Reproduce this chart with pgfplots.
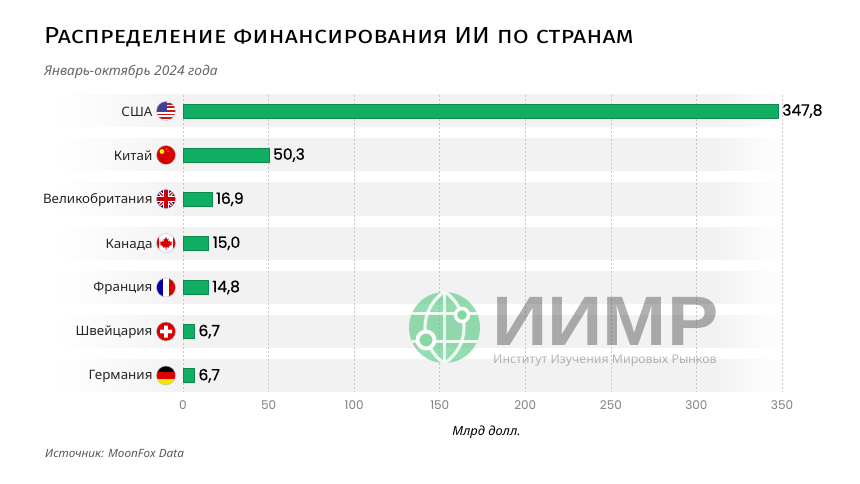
\documentclass[border=0pt]{standalone}
\usepackage{fontspec}
\usepackage{pgfplots}
\usepackage{pgfplotstable}
\pgfplotsset{compat=1.18}
\setmainfont{Noto Sans}[FakeStretch=1.03]
\newfontfamily\titlefont{Fira Sans}[Letters=SmallCaps,FakeStretch=1.12]
\newfontfamily\numfont{Poppins}
\newfontfamily\wmfont{Liberation Sans}
\definecolor{barg}{HTML}{10AE63}
\definecolor{bandg}{HTML}{F2F2F2}
\definecolor{globeg}{HTML}{5CCB86}
\pgfdeclarehorizontalshading{bandshade}{100bp}{color(0bp)=(white); color(25bp)=(white); color(34.3bp)=(bandg); color(70.4bp)=(bandg); color(75bp)=(white); color(100bp)=(white)}
\pgfplotstableread[col sep=comma]{
y,v,lab
0,347.8,{347,8}
1,50.3,{50,3}
2,16.9,{16,9}
3,15.0,{15,0}
4,14.8,{14,8}
5,6.7,{6,7}
6,6.7,{6,7}
}\datatab
\newcommand{\band}[1]{%
  \shade[shading=bandshade] (55pt,-#1pt+16pt) rectangle (782pt,-#1pt-16pt);
}
\newcommand{\flag}[2]{%
  \begin{scope}[shift={(166pt,-#1pt)},x=1pt,y=1pt]
    \begin{scope}
      \clip (0,0) circle (9.5);
      #2
    \end{scope}
  \end{scope}
}
\begin{document}
\begin{tikzpicture}
\useasboundingbox (0,0) rectangle (860pt,-484pt);
\fill[white] (0,0) rectangle (860pt,-484pt);
\foreach \c in {111,155,199,243,287.5,331.5,375.5}{\band{\c}}
\node[anchor=base west,inner sep=0,font=\titlefont\fontsize{23.2}{25}\selectfont,text=black] at (44pt,-44pt) {Распределение финансирования ИИ по странам};
\node[anchor=base west,inner sep=0,font=\itshape\fontsize{13.4}{14}\selectfont,text=black!60] at (44pt,-76pt) {Январь-октябрь 2024 года};
\node[anchor=base west,inner sep=0,font=\itshape\fontsize{11.4}{12}\selectfont,text=black!65] at (45pt,-457pt) {Источник: MoonFox Data};
\begin{axis}[
  at={(183pt,-392pt)},anchor=south west,
  scale only axis,width=599pt,height=297pt,
  xmin=0,xmax=350,ymin=-0.363,ymax=6.37,
  y dir=reverse,
  axis line style={draw=none},
  clip=false,
  xbar,bar width=14pt,
  major tick length=0pt,
  xtick={0,50,100,150,200,250,300,350},
  xmajorgrids,
  grid style={dash pattern=on 2pt off 2pt,draw=black!22,line width=0.7pt},
  ytick={0,1,2,3,4,5,6},
  yticklabels={США,Китай,Великобритания,Канада,Франция,Швейцария,Германия},
  yticklabel style={font=\fontsize{13}{14}\selectfont,text=black!85,xshift=-27pt,yshift=-1pt},
  xticklabel style={font=\numfont\fontsize{12}{13}\selectfont,text=black!50,yshift=-5pt},
  /pgf/number format/assume math mode=true,
  /pgf/number format/1000 sep={},
  xlabel={Млрд долл.},
  xlabel style={font=\bfseries\itshape\fontsize{12.5}{13}\selectfont,text=black,yshift=-10pt,xshift=4pt},
  nodes near coords,
  point meta=explicit symbolic,
  nodes near coords style={font=\numfont\fontsize{15.5}{17}\selectfont\addfontfeature{FakeBold=0.6},text=black,anchor=west,xshift=0.5pt},
]
\addplot[fill=barg,draw=barg!80!black,line width=0.5pt] table[x=v,y=y,meta=lab,col sep=comma] {\datatab};
\end{axis}
% flags
\flag{111}{
  \fill[white] (-10,-10) rectangle (10,10);
  \foreach \yy in {7.2,3.6,0,-3.6,-7.2}{\fill[red!75!black!90] (-10,\yy-0.9) rectangle (10,\yy+0.9);}
  \fill[blue!45!black!75] (-10,0) rectangle (0.5,10);
}
\flag{155}{
  \fill[red!85!black] (-10,-10) rectangle (10,10);
  \fill[yellow] (-4,3.5) circle (2.4);
  \fill[yellow] (0.5,6) circle (0.7) (2,3.8) circle (0.7);
}
\flag{199}{
  \fill[blue!50!black] (-10,-10) rectangle (10,10);
  \draw[white,line width=3.5pt] (-10,-10)--(10,10) (-10,10)--(10,-10);
  \draw[red!80!black,line width=1.2pt] (-10,-10)--(10,10) (-10,10)--(10,-10);
  \fill[white] (-3,-10) rectangle (3,10) (-10,-3) rectangle (10,3);
  \fill[red!80!black] (-1.8,-10) rectangle (1.8,10) (-10,-1.8) rectangle (10,1.8);
}
\flag{243}{
  \fill[white] (-10,-10) rectangle (10,10);
  \fill[red!85!black] (-10,-10) rectangle (-7,10) (7,-10) rectangle (10,10);
  \fill[red!85!black] (0,6) -- (1.3,3.5) -- (2.6,4.2) -- (2,0.8) -- (3.5,2.4) -- (4,1) -- (6,1.5) -- (5.3,-0.8) -- (6,-1.3) -- (2.8,-3.7) -- (3.2,-4.6) -- (0.3,-4.2) -- (0.3,-7) -- (-0.3,-7) -- (-0.3,-4.2) -- (-3.2,-4.6) -- (-2.8,-3.7) -- (-6,-1.3) -- (-5.3,-0.8) -- (-6,1.5) -- (-4,1) -- (-3.5,2.4) -- (-2,0.8) -- (-2.6,4.2) -- (-1.3,3.5) -- cycle;
}
\flag{287.5}{
  \fill[white] (-10,-10) rectangle (10,10);
  \fill[blue!65!black] (-10,-10) rectangle (-3.2,10);
  \fill[red!85!black] (3.2,-10) rectangle (10,10);
}
\flag{331.5}{
  \fill[red!85!black] (-10,-10) rectangle (10,10);
  \fill[white] (-1.9,-6) rectangle (1.9,6) (-6,-1.9) rectangle (6,1.9);
}
\flag{375.5}{
  \fill[black] (-10,3.2) rectangle (10,10);
  \fill[red!85!black] (-10,-3.2) rectangle (10,3.2);
  \fill[yellow!85!orange] (-10,-10) rectangle (10,-3.2);
}
\foreach \c in {111,155,199,243,287.5,331.5,375.5}{\draw[black!25,line width=0.4pt] (166pt,-\c pt) circle (9.5pt);}
% watermark
\begin{scope}[shift={(444.5pt,-327.5pt)},x=1pt,y=1pt]
  \fill[globeg,opacity=0.65] (0,0) circle (35.5);
  \begin{scope}
    \clip (0,0) circle (35.5);
    \draw[white,line width=3.2pt,opacity=0.85] (0,-36)--(0,36) (-36,14)--(36,14) (-36,-14)--(36,-14);
    \draw[white,line width=3.2pt,opacity=0.85] (0,36) .. controls (-26,18) and (-26,-18) .. (0,-36);
    \draw[white,line width=3.2pt,opacity=0.85] (0,36) .. controls (26,18) and (26,-18) .. (0,-36);
  \end{scope}
  \draw[white,line width=3.4pt,fill=globeg!75] (17.5,12.5) circle (6.5);
  \draw[white,line width=3.8pt,fill=globeg!75] (-18.5,-12.5) circle (8.5);
\end{scope}
\node[anchor=base west,inner sep=0,opacity=0.36,text=black!85,font=\wmfont\bfseries\fontsize{70}{70}\selectfont] at (492pt,-345pt) {\scalebox{1.1}[1.0]{ИИМР}};
\node[anchor=base west,inner sep=0,opacity=0.35,text=black!80,font=\fontsize{12}{12}\selectfont] at (493pt,-363pt) {Институт Изучения Мировых Рынков};
\end{tikzpicture}
\end{document}
